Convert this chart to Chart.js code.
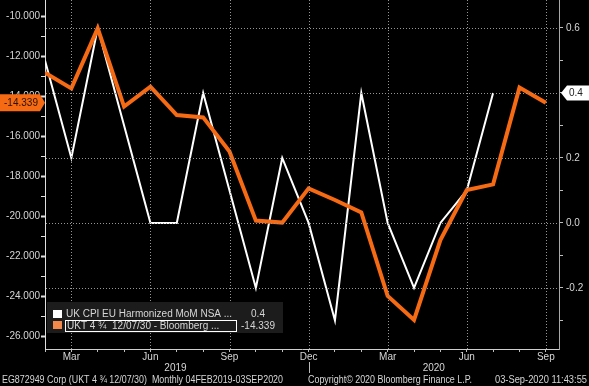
<!DOCTYPE html>
<html>
<head>
<meta charset="utf-8">
<script src="https://cdn.jsdelivr.net/npm/chart.js@4.4.1/dist/chart.umd.min.js"></script>
<style>
  html, body { margin: 0; padding: 0; background: #000; }
  #c { display: block; }
</style>
</head>
<body>
<canvas id="c" width="589" height="386"></canvas>
<script>
// monthly points, Feb 2019 .. Sep 2020
var months = ['Feb19','Mar19','Apr19','May19','Jun19','Jul19','Aug19','Sep19','Oct19','Nov19','Dec19',
              'Jan20','Feb20','Mar20','Apr20','May20','Jun20','Jul20','Aug20','Sep20'];

// UK CPI EU Harmonized MoM NSA (right axis)
var cpiMoM = [0.5, 0.2, 0.6, 0.3, 0.0, 0.0, 0.4, 0.1, -0.2, 0.2, 0.0, -0.3, 0.4, 0.0, -0.2, 0.0, 0.1, 0.4];

// UKT 4 3/4 12/07/30 - Bloomberg (left axis)
var ukt = [-12.83, -13.62, -10.62, -14.53, -13.53, -14.95, -15.07, -16.78, -20.23, -20.33, -18.62,
           -19.2, -19.82, -24.0, -25.2, -21.2, -18.7, -18.42, -13.58, -14.339];

// x tick labels (index into months)
var xTickIdx  = [1, 4, 7, 10, 13, 16, 19];
var xTickText = ['Mar', 'Jun', 'Sep', 'Dec', 'Mar', 'Jun', 'Sep'];
var yearIdx   = [4.95, 14.75];
var yearText  = ['2019', '2020'];

var FONT = '"Liberation Sans", Arial, sans-serif';
var ORANGE = '#f66a14';
var GRID = 'rgb(150,150,150)';
var TXT = '#d6d6d6';

function pts(arr) { return arr.map(function (v, i) { return { x: i, y: v }; }); }

function fixFit(w, h) {
  return function (s) {
    if (w != null) s.width = w;
    if (h != null) s.height = h;
    s.paddingTop = 0; s.paddingBottom = 0; s.paddingLeft = 0; s.paddingRight = 0;
  };
}

// dotted grid: quarters on x, every 0.2 on the right axis
function drawGrid(chart) {
  var ctx = chart.ctx, a = chart.chartArea;
  var x = chart.scales.x, yR = chart.scales.yR;
  var i, px, py;
  ctx.save();
  ctx.fillStyle = GRID;
  // dots as 1px squares, every 3px
  for (i = 0; i < xTickIdx.length; i++) {
    px = Math.round(x.getPixelForValue(xTickIdx[i]));
    if (px >= a.right) continue;
    for (py = Math.ceil(a.top); py < a.bottom; py += 3) ctx.fillRect(px, py, 1, 1);
  }
  yR.ticks.forEach(function (t) {
    if (Math.round(t.value * 10) % 2 !== 0) return;
    var y = Math.round(yR.getPixelForValue(t.value));
    for (var xx = Math.ceil(a.left) + 1; xx < a.right; xx += 3) ctx.fillRect(xx, y, 1, 1);
  });
  ctx.restore();
}

var dottedGrid = {
  id: 'dottedGrid',
  afterDatasetsDraw: function (chart) { drawGrid(chart); }
};

var extras = {
  id: 'extras',
  afterDraw: function (chart) {
    var ctx = chart.ctx;
    var x = chart.scales.x, yL = chart.scales.yL, yR = chart.scales.yR;
    var lastCpi = cpiMoM[cpiMoM.length - 1];
    var lastUkt = ukt[ukt.length - 1];
    ctx.save();

    // year labels + divider
    ctx.fillStyle = TXT;
    ctx.font = '10px ' + FONT;
    ctx.textAlign = 'center';
    ctx.textBaseline = 'middle';
    for (var i = 0; i < yearText.length; i++) {
      ctx.fillText(yearText[i], x.getPixelForValue(yearIdx[i]), 368);
    }
    ctx.strokeStyle = '#bbb';
    ctx.lineWidth = 1;
    var dx = Math.round(x.getPixelForValue(10)) + 0.5;
    ctx.beginPath(); ctx.moveTo(dx, 362); ctx.lineTo(dx, 373); ctx.stroke();

    // footer
    ctx.textAlign = 'left';
    ctx.fillText('EG872949 Corp (UKT 4 \u00be 12/07/30)  Monthly 04FEB2019-03SEP2020', 2, 380, 281);
    ctx.fillText('Copyright\u00a9 2020 Bloomberg Finance L.P.', 308, 380, 164);
    ctx.textAlign = 'right';
    ctx.fillText('03-Sep-2020 11:43:55', 587, 380, 92);

    // legend
    ctx.fillStyle = '#1c1c1c';
    ctx.fillRect(47, 302, 236, 31);
    ctx.fillStyle = '#fff';
    ctx.fillRect(53, 310, 9, 8);
    ctx.fillStyle = '#f4874a';
    ctx.fillRect(53, 321, 9, 8);
    ctx.strokeStyle = '#fff';
    ctx.strokeRect(65.5, 320.5, 171, 11);
    ctx.fillStyle = TXT;
    ctx.textAlign = 'left';
    ctx.fillText('UK CPI EU Harmonized MoM NSA ...', 66, 314);
    ctx.fillText('UKT 4 \u00be  12/07/30 - Bloomberg ...', 67, 326);
    ctx.textAlign = 'center';
    ctx.fillText(lastCpi.toFixed(1), 258, 314);
    ctx.fillText(lastUkt.toFixed(3), 258, 326);

    // left value tag
    var ty = yL.getPixelForValue(lastUkt);
    ctx.fillStyle = ORANGE;
    ctx.beginPath();
    ctx.moveTo(0, ty - 8.5); ctx.lineTo(40, ty - 8.5); ctx.lineTo(45, ty);
    ctx.lineTo(40, ty + 8.5); ctx.lineTo(0, ty + 8.5); ctx.closePath(); ctx.fill();
    ctx.fillStyle = '#2a1200';
    ctx.font = '10px ' + FONT;
    ctx.fillText(lastUkt.toFixed(3), 21, ty + 0.5);

    // right value tag
    var ry = yR.getPixelForValue(lastCpi);
    ctx.fillStyle = '#fff';
    ctx.beginPath();
    ctx.moveTo(561, ry); ctx.lineTo(567, ry - 7.5); ctx.lineTo(589, ry - 7.5);
    ctx.lineTo(589, ry + 7.5); ctx.lineTo(567, ry + 7.5); ctx.closePath(); ctx.fill();
    ctx.fillStyle = '#222';
    ctx.textAlign = 'left';
    ctx.fillText(lastCpi.toFixed(1), 569, ry + 0.5);
    ctx.restore();
  }
};

new Chart(document.getElementById('c').getContext('2d'), {
  type: 'line',
  data: {
    datasets: [
      {
        label: 'UK CPI EU Harmonized MoM NSA',
        data: pts(cpiMoM),
        yAxisID: 'yR',
        borderColor: '#ffffff',
        borderWidth: 2,
        pointRadius: 0,
        tension: 0,
        fill: false,
        order: 1
      },
      {
        label: 'UKT 4 3/4 12/07/30 - Bloomberg',
        data: pts(ukt),
        yAxisID: 'yL',
        borderColor: ORANGE,
        borderWidth: 4,
        pointRadius: 0,
        tension: 0,
        fill: false,
        borderJoinStyle: 'miter',
        order: 0
      }
    ]
  },
  options: {
    responsive: false,
    animation: false,
    layout: { padding: 0 },
    plugins: { legend: { display: false }, tooltip: { enabled: false } },
    scales: {
      x: {
        type: 'linear',
        min: 0, max: 19.5,
        afterFit: fixFit(null, 37),
        border: { color: '#cfcfcf', width: 1 },
        grid: { drawOnChartArea: false, tickColor: '#bdbdbd', tickLength: 3 },
        ticks: {
          stepSize: 1,
          includeBounds: false,
          autoSkip: false,
          maxRotation: 0,
          padding: -1,
          color: TXT,
          font: { family: FONT, size: 10 },
          callback: function (v) {
            var k = xTickIdx.indexOf(Math.round(v));
            return k >= 0 ? xTickText[k] : '';
          }
        }
      },
      yL: {
        type: 'linear',
        position: 'left',
        min: -26.65, max: -9.2,
        afterFit: fixFit(45, null),
        border: { color: '#e0e0e0', width: 1 },
        grid: { drawOnChartArea: false, tickColor: '#e0e0e0', tickLength: 4,
                tickWidth: function (c) { return Math.round(c.tick.value) % 2 === 0 ? 2 : 1; } },
        ticks: {
          stepSize: 1,
          includeBounds: false,
          autoSkip: false,
          padding: 1,
          color: TXT,
          font: { family: FONT, size: 10 },
          callback: function (v) { return Math.round(v) % 2 === 0 ? v.toFixed(3) : ''; }
        }
      },
      yR: {
        type: 'linear',
        position: 'right',
        min: -0.388, max: 0.686,
        afterFit: fixFit(30, null),
        border: { color: '#a8a8a8', width: 1 },
        grid: { drawOnChartArea: false, tickColor: '#bdbdbd', tickLength: 4 },
        ticks: {
          stepSize: 0.1,
          includeBounds: false,
          autoSkip: false,
          padding: 3,
          color: TXT,
          font: { family: FONT, size: 10 },
          callback: function (v) {
            var n = Math.round(v * 10);
            return n % 2 === 0 ? (n / 10).toFixed(1) : '';
          }
        }
      }
    }
  },
  plugins: [dottedGrid, extras]
});
</script>
</body>
</html>
